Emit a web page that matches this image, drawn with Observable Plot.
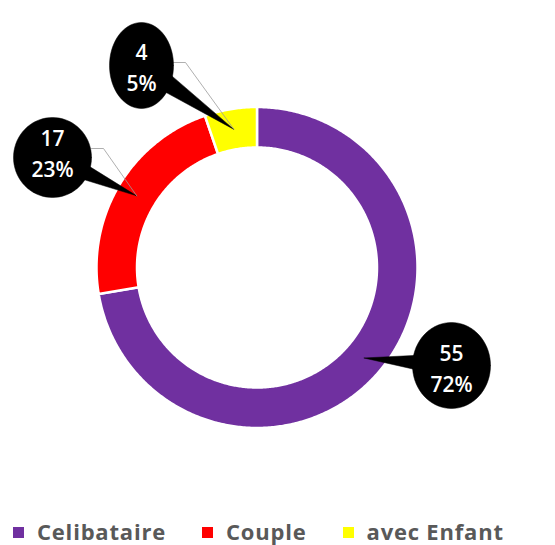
<!DOCTYPE html>
<html>
<head>
<meta charset="utf-8">
<script src="https://cdn.jsdelivr.net/npm/d3@7"></script>
<script src="https://cdn.jsdelivr.net/npm/@observablehq/plot@0.6"></script>
<style>
  html, body { margin: 0; padding: 0; background: #fff; }
  #chart svg { display: block; }
  #legend { display: flex; align-items: center; height: 75px; padding-left: 13px; padding-top: 46px; box-sizing: border-box;
            font-family: "Open Sans", sans-serif; font-weight: 700; font-size: 22px; letter-spacing: 0.8px; color: #595959; }
  .item { display: flex; align-items: center; margin-right: 36px; white-space: nowrap; }
  .sw { width: 11px; height: 11px; margin-right: 13px; margin-top: 3px; }
</style>
</head>
<body>
<div id="chart"></div>
<div id="legend"></div>
<script>
// ---- data ----
const categories = ["Celibataire", "Couple", "avec Enfant"];
const counts = [55, 17, 4];
const percentLabels = ["72%", "23%", "5%"];
const colors = ["#7030A0", "#FF0000", "#FFFF00"];

// ---- layout (pixel units, origin at donut centre, y up) ----
const W = 555, H = 470;
const CX = 256.5, CY = 267;
const R_OUT = 160.5, R_IN = 120, R_TIP = 140;
// callout bubbles: centre, radii, leader offset, text offset
const bubbles = [
  {cx: 194.5, cy: -98, rx: 39, ry: 43, ly: 0, ty: -1},
  {cx: -204.5, cy: 110, rx: 39, ry: 40, ly: 9, ty: 6},
  {cx: -115.5, cy: 202, rx: 32, ry: 43, ly: 3, ty: 0}
];

const pie = d3.pie().sort(null).value(d => d)(counts);

function pt(a, r) { return [r * Math.sin(a), r * Math.cos(a)]; }

// slice polygons
const slices = pie.map((p, i) => {
  const n = Math.max(8, Math.ceil((p.endAngle - p.startAngle) / 0.01));
  const pts = [];
  for (let k = 0; k <= n; k++) pts.push(pt(p.startAngle + (p.endAngle - p.startAngle) * k / n, R_OUT));
  for (let k = n; k >= 0; k--) pts.push(pt(p.startAngle + (p.endAngle - p.startAngle) * k / n, R_IN));
  pts.push(pts[0]);
  return pts;
});

const tips = pie.map(p => pt((p.startAngle + p.endAngle) / 2, R_TIP));

const ellipses = bubbles.map(b => {
  const pts = [];
  for (let k = 0; k <= 72; k++) {
    const t = k / 72 * 2 * Math.PI;
    pts.push([b.cx + b.rx * Math.cos(t), b.cy + b.ry * Math.sin(t)]);
  }
  return pts;
});

const tails = bubbles.map((b, i) => {
  const [tx, ty] = tips[i];
  const dx = tx - b.cx, dy = ty - b.cy, L = Math.hypot(dx, dy);
  const nx = -dy / L, ny = dx / L, hw = 12;
  return [[b.cx + nx * hw, b.cy + ny * hw], [tx, ty], [b.cx - nx * hw, b.cy - ny * hw], [b.cx + nx * hw, b.cy + ny * hw]];
});

const leaders = bubbles.map((b, i) => {
  const [tx, ty] = tips[i];
  const s = tx > b.cx ? 1 : -1;
  const x0 = b.cx + s * b.rx, y0 = b.cy + b.ly;
  return [[x0, y0], [x0 + s * 12, y0], [tx, ty]];
});

const labels = bubbles.map((b, i) => ({x: b.cx, y: b.cy + b.ty, text: counts[i] + "\n" + percentLabels[i]}));

const marks = [];
slices.forEach((pts, i) => marks.push(Plot.line(pts, {x: d => d[0], y: d => d[1], fill: colors[i], stroke: "white", strokeWidth: 2.5, curve: "linear"})));
tails.forEach(pts => marks.push(Plot.line(pts, {x: d => d[0], y: d => d[1], fill: "black", stroke: "black", strokeWidth: 0.5, curve: "linear"})));
leaders.forEach((pts, i) => { if (i > 0) marks.push(Plot.line(pts, {x: d => d[0], y: d => d[1], stroke: "#9a9a9a", strokeWidth: 0.8, curve: "linear"})); });
ellipses.forEach(pts => marks.push(Plot.line(pts, {x: d => d[0], y: d => d[1], fill: "black", stroke: "black", strokeWidth: 0.5, curve: "linear"})));
marks.push(Plot.text(labels, {x: "x", y: "y", text: "text", fill: "white", fontSize: 21, fontWeight: 600, lineHeight: 1.5, fontFamily: "Open Sans", textAnchor: "middle"}));

const chart = Plot.plot({
  width: W, height: H,
  margin: 0,
  x: {domain: [-CX, W - CX], axis: null},
  y: {domain: [CY - H, CY], axis: null},
  style: {background: "white", fontFamily: "Open Sans"},
  marks
});
document.getElementById("chart").appendChild(chart);

const legend = document.getElementById("legend");
categories.forEach((c, i) => {
  const it = document.createElement("div");
  it.className = "item";
  const sw = document.createElement("span");
  sw.className = "sw";
  sw.style.background = colors[i];
  const tx = document.createElement("span");
  tx.textContent = c;
  it.appendChild(sw); it.appendChild(tx);
  legend.appendChild(it);
});
</script>
</body>
</html>
